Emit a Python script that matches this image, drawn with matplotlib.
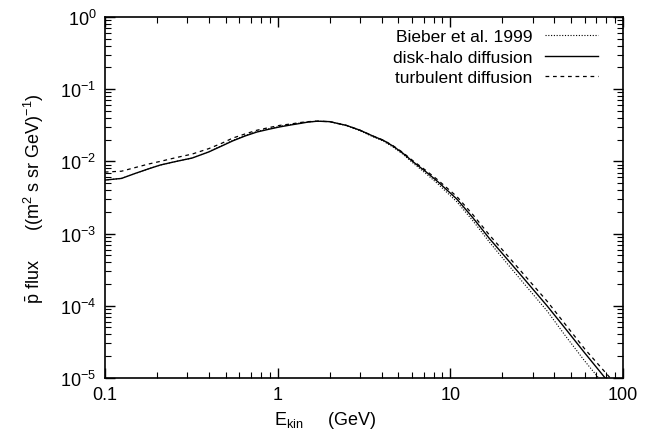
import matplotlib
matplotlib.use('Agg')
import matplotlib.pyplot as plt
import matplotlib.ticker as mticker

plt.rcParams['font.family'] = ['Liberation Sans', 'DejaVu Sans']
plt.rcParams['mathtext.fontset'] = 'custom'
plt.rcParams['mathtext.rm'] = 'Liberation Sans'
plt.rcParams['mathtext.it'] = 'Liberation Sans:italic'
plt.rcParams['axes.unicode_minus'] = False

# kinetic energy (GeV) and antiproton flux ((m^2 s sr GeV)^-1)
e_halo = [0.1, 0.125, 0.15, 0.18, 0.21, 0.26, 0.32, 0.4, 0.48, 0.55, 0.65, 0.76,
          0.9, 1.03, 1.2, 1.35, 1.5, 1.7, 2.0, 2.5, 3.0, 3.55, 4.1, 4.65, 5.3,
          6.1, 7.2, 8.4, 10.9, 13.5, 16.9, 21, 27, 36.2, 46, 60, 78.5]
flux_halo = [5.5e-3, 5.8e-3, 6.8e-3, 7.9e-3, 8.9e-3, 1.0e-2, 1.11e-2, 1.35e-2,
             1.65e-2, 1.92e-2, 2.25e-2, 2.55e-2, 2.8e-2, 3.0e-2, 3.2e-2, 3.35e-2,
             3.5e-2, 3.6e-2, 3.55e-2, 3.15e-2, 2.7e-2, 2.25e-2, 1.95e-2, 1.63e-2,
             1.3e-2, 9.8e-3, 7.2e-3, 5.3e-3, 3.0e-3, 1.65e-3, 8.4e-4, 4.6e-4,
             2.28e-4, 1.0e-4, 4.9e-5, 2.2e-5, 1.0e-5]

e_turb = [0.1, 0.125, 0.15, 0.18, 0.21, 0.26, 0.32, 0.4, 0.48, 0.55, 0.65, 0.76,
          0.9, 1.03, 1.2, 1.35, 1.5, 1.7, 2.0, 2.5, 3.0, 3.55, 4.1, 4.65, 5.3,
          6.1, 7.2, 8.4, 10.9, 13.5, 16.9, 21, 27, 36.2, 46, 60, 84]
flux_turb = [7.1e-3, 7.3e-3, 8.2e-3, 9.2e-3, 1.0e-2, 1.13e-2, 1.26e-2, 1.5e-2,
             1.8e-2, 2.1e-2, 2.4e-2, 2.7e-2, 2.95e-2, 3.15e-2, 3.3e-2, 3.45e-2,
             3.55e-2, 3.6e-2, 3.55e-2, 3.15e-2, 2.7e-2, 2.25e-2, 1.96e-2, 1.65e-2,
             1.33e-2, 1.01e-2, 7.5e-3, 5.6e-3, 3.25e-3, 1.82e-3, 9.4e-4, 5.2e-4,
             2.6e-4, 1.16e-4, 5.6e-5, 2.5e-5, 1.0e-5]

e_bieber = [0.1, 0.125, 0.15, 0.18, 0.21, 0.26, 0.32, 0.4, 0.48, 0.55, 0.65, 0.76,
            0.9, 1.03, 1.2, 1.35, 1.5, 1.7, 2.0, 2.5, 3.0, 3.55, 4.1, 4.65, 5.3,
            6.1, 7.2, 8.4, 10.9, 13.5, 16.9, 21, 27, 36.2, 46, 60, 72]
flux_bieber = [5.5e-3, 5.8e-3, 6.8e-3, 7.9e-3, 8.9e-3, 1.0e-2, 1.11e-2, 1.36e-2,
               1.67e-2, 1.95e-2, 2.28e-2, 2.6e-2, 2.85e-2, 3.05e-2, 3.25e-2, 3.4e-2,
               3.52e-2, 3.6e-2, 3.55e-2, 3.12e-2, 2.65e-2, 2.2e-2, 1.9e-2, 1.58e-2,
               1.26e-2, 9.4e-3, 6.8e-3, 4.95e-3, 2.75e-3, 1.5e-3, 7.5e-4, 4.0e-4,
               1.95e-4, 8.5e-5, 3.9e-5, 1.7e-5, 1.0e-5]

x_ticks = [0.1, 1, 10, 100]
x_tick_labels = ['0.1', '1', '10', '100']

fig = plt.figure(figsize=(6.63, 4.39), dpi=100)
ax = fig.add_axes([0.158, 0.137, 0.782, 0.822])

ax.plot(e_bieber, flux_bieber, color='black', lw=0.8, linestyle=(0, (1, 1.5)),
        label='Bieber et al. 1999')
ax.plot(e_halo, flux_halo, color='black', lw=1.0, linestyle='-',
        label='disk-halo diffusion')
ax.plot(e_turb, flux_turb, color='black', lw=0.9, linestyle=(0, (3, 3)),
        label='turbulent diffusion')

ax.set_xscale('log')
ax.set_yscale('log')
ax.set_xlim(0.1, 100)
ax.set_ylim(1e-5, 1)

ax.xaxis.set_major_locator(mticker.FixedLocator(x_ticks))
ax.xaxis.set_major_formatter(mticker.FixedFormatter(x_tick_labels))
ax.xaxis.set_minor_locator(mticker.LogLocator(base=10, subs=range(2, 10), numticks=20))
ax.xaxis.set_minor_formatter(mticker.NullFormatter())
ax.yaxis.set_major_locator(mticker.LogLocator(base=10, numticks=10))
ax.yaxis.set_minor_locator(mticker.LogLocator(base=10, subs=range(2, 10), numticks=20))
ax.yaxis.set_minor_formatter(mticker.NullFormatter())

ax.tick_params(which='both', direction='in', top=True, right=True, labelsize=13, color='black')
ax.tick_params(which='major', length=7, width=1.0, pad=6)
ax.tick_params(which='minor', length=4, width=0.8)
for s in ax.spines.values():
    s.set_linewidth(1.2)

ax.set_xlabel(r'E$_{\rm kin}$     (GeV)', fontsize=13, labelpad=4)
ax.xaxis.set_label_coords(0.425, -0.085)
ax.set_ylabel(r'$\bar{\rm p}$ flux      ((m$^2$ s sr GeV)$^{-1}$)', fontsize=13, labelpad=10)

ax.legend(loc='upper right', frameon=False, markerfirst=False, fontsize=12.5,
          handlelength=3.05, handletextpad=0.75, labelspacing=0.3,
          borderaxespad=0.3, bbox_to_anchor=(0.975, 1.0))

fig.savefig('out.png', dpi=100)
